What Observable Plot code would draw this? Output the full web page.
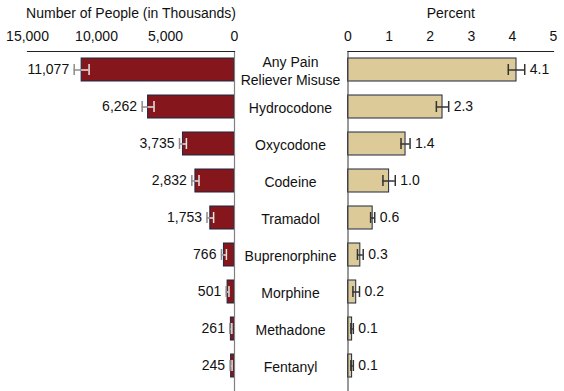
<!DOCTYPE html>
<html><head><meta charset="utf-8">
<script src="https://cdn.jsdelivr.net/npm/d3@7"></script>
<script src="https://cdn.jsdelivr.net/npm/@observablehq/plot@0.6"></script>
<style>
body{margin:0;background:#fff;}
#chart{position:relative;width:564px;height:391px;background:#fff;}
#chart svg{position:absolute;top:0;overflow:visible;}
</style></head><body><div id="chart"></div>
<script>
const categories = ["Any Pain\nReliever Misuse","Hydrocodone","Oxycodone","Codeine","Tramadol","Buprenorphine","Morphine","Methadone","Fentanyl"];
const people = [11077, 6262, 3735, 2832, 1753, 766, 501, 261, 245];
const peopleErr = [540, 430, 250, 260, 240, 180, 100, 70, 70];
const percent = [4.1, 2.3, 1.4, 1.0, 0.6, 0.3, 0.2, 0.1, 0.1];
const percentErr = [0.2, 0.15, 0.11, 0.15, 0.05, 0.07, 0.08, 0.03, 0.03];
const peopleTicks = [0, 5000, 10000, 15000];
const percentTicks = [0, 1, 2, 3, 4, 5];
const peopleTitle = "Number of People (in Thousands)";
const percentTitle = "Percent";

const rows = categories.map((c, i) => ({c, n: people[i], ne: peopleErr[i], p: percent[i], pe: percentErr[i]}));
const font = "'Liberation Sans', Arial, sans-serif";
const style = {fontFamily: font, fontSize: "14px", background: "transparent", overflow: "visible", color: "#111"};
const yScale = {domain: categories, paddingInner: 0.366, paddingOuter: 0.27, align: 0.35};
const navy = "#1f2740";

const left = Plot.plot({
  width: 340, height: 391, marginTop: 51, marginBottom: 0, marginLeft: 27, marginRight: 106,
  style,
  x: {domain: [15000, 0]},
  y: yScale,
  marks: [
    Plot.barX(rows, {x: "n", y: "c", fill: "#85171c", stroke: navy, strokeWidth: 1}),
    Plot.ruleX([0], {stroke: "#808080", strokeWidth: 1.2}),
    Plot.frame({anchor: "top", stroke: "#222", strokeWidth: 1.2}),
    Plot.axisX({anchor: "top", ticks: peopleTicks, tickFormat: d3.format(","), tickSize: 0, tickPadding: 11,
      label: peopleTitle, labelAnchor: "center", labelOffset: 43, labelArrow: "none"}),
    Plot.axisY({anchor: "right", tickSize: 0, tickPadding: 56, textAnchor: "middle", lineHeight: 1.3, label: null}),
    Plot.ruleY(rows, {y: "c", x1: "n", x2: d => d.n + d.ne, stroke: "#8c8c8c", strokeWidth: 1.5}),
    Plot.ruleY(rows, {y: "c", x1: d => d.n - d.ne, x2: "n", stroke: "#e6e6e6", strokeWidth: 1.5}),
    Plot.tickX(rows, {y: "c", x: d => d.n + d.ne, stroke: "#8c8c8c", strokeWidth: 1.5, insetTop: 6, insetBottom: 6}),
    Plot.tickX(rows, {y: "c", x: d => d.n - d.ne, stroke: "#e6e6e6", strokeWidth: 1.5, insetTop: 6, insetBottom: 6}),
    Plot.text(rows, {y: "c", x: d => d.n + d.ne, text: d => d3.format(",")(d.n), textAnchor: "end", dx: -5, fill: "#111"})
  ]
});

const right = Plot.plot({
  width: 224, height: 391, marginTop: 51, marginBottom: 0, marginLeft: 7.5, marginRight: 11,
  style,
  x: {domain: [0, 5]},
  y: {...yScale, axis: null},
  marks: [
    Plot.barX(rows, {x: "p", y: "c", fill: "#dccb98", stroke: navy, strokeWidth: 1}),
    Plot.ruleX([0], {stroke: "#555", strokeWidth: 1.2}),
    Plot.frame({anchor: "top", stroke: "#222", strokeWidth: 1.2}),
    Plot.axisX({anchor: "top", ticks: percentTicks, tickFormat: d => String(d), tickSize: 0, tickPadding: 11,
      label: percentTitle, labelAnchor: "center", labelOffset: 43, labelArrow: "none"}),
    Plot.ruleY(rows, {y: "c", x1: d => d.p - d.pe, x2: d => d.p + d.pe, stroke: "#333", strokeWidth: 1.5}),
    Plot.tickX(rows, {y: "c", x: d => d.p - d.pe, stroke: "#333", strokeWidth: 1.5, insetTop: 6, insetBottom: 6}),
    Plot.tickX(rows, {y: "c", x: d => d.p + d.pe, stroke: "#333", strokeWidth: 1.5, insetTop: 6, insetBottom: 6}),
    Plot.text(rows, {y: "c", x: d => d.p + d.pe, text: d => d.p.toFixed(1), textAnchor: "start", dx: 5, fill: "#111"})
  ]
});

const chart = document.getElementById("chart");
left.style.left = "0px";
right.style.left = "340px";
chart.append(left, right);
</script></body></html>
